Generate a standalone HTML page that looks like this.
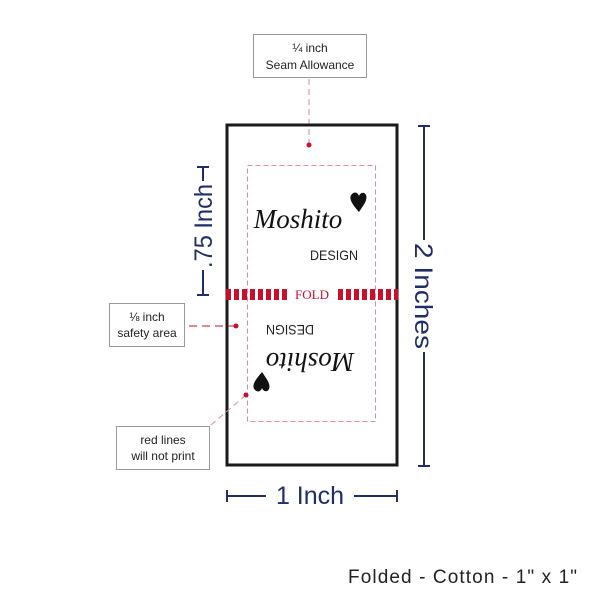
<!DOCTYPE html>
<html><head><style>
body{margin:0;background:#fff;width:600px;height:600px;overflow:hidden}
svg{display:block}
.lbl{font-family:"Liberation Sans",sans-serif;font-size:12px;fill:#222}
.dim{font-family:"Liberation Sans",sans-serif;font-size:25px;fill:#1f2d6a}
.scr{font-family:"Liberation Serif",serif;font-style:italic;fill:#111}
.dsg{font-family:"Liberation Sans",sans-serif;font-size:14px;fill:#222}
</style></head><body>
<svg width="600" height="600" viewBox="0 0 600 600">
<rect x="253.5" y="34.5" width="113" height="43" fill="#fff" stroke="#999"/>
<text class="lbl" x="310" y="52" text-anchor="middle">¼ inch</text>
<text class="lbl" x="310" y="69" text-anchor="middle">Seam Allowance</text>
<line x1="309" y1="79" x2="309" y2="144" stroke="#e08a95" stroke-dasharray="6,4"/>
<circle cx="309" cy="145" r="2.5" fill="#c8102e"/>
<rect x="227" y="125" width="170" height="340" fill="none" stroke="#1a1a1a" stroke-width="3"/>
<rect x="247.5" y="165.5" width="128" height="256" fill="none" stroke="#e08a95" stroke-dasharray="5,3"/>
<line x1="226" y1="294.5" x2="290" y2="294.5" stroke="#c8102e" stroke-width="11" stroke-dasharray="5,3"/>
<line x1="338" y1="294.5" x2="398" y2="294.5" stroke="#c8102e" stroke-width="11" stroke-dasharray="5,3"/>
<text x="312" y="299" text-anchor="middle" font-family="Liberation Serif,serif" font-size="13" fill="#c8102e">FOLD</text>
<!-- logo top -->
<text class="scr" x="298" y="228" font-size="27" text-anchor="middle">Moshito</text>
<text class="dsg" x="334" y="260" text-anchor="middle" textLength="48" lengthAdjust="spacingAndGlyphs">DESIGN</text>
<path d="M359 212 C352 204 348 198 352 194 C355 191 358 193 359 196 C360 193 364 191 366 195 C368 200 363 206 359 212Z" fill="#111"/>
<!-- logo bottom rotated -->
<g transform="translate(310 362) rotate(180)"><text class="scr" x="0" y="9" font-size="27" text-anchor="middle">Moshito</text></g>
<g transform="translate(290 330) rotate(180)"><text class="dsg" x="0" y="5" text-anchor="middle" textLength="48" lengthAdjust="spacingAndGlyphs">DESIGN</text></g>
<path d="M262 372 C255 380 251 386 255 390 C258 393 261 391 262 388 C263 391 267 393 269 389 C271 384 266 378 262 372Z" fill="#111"/>
<!-- safety -->
<rect x="109.5" y="303.5" width="75" height="43" fill="#fff" stroke="#999"/>
<text class="lbl" x="147" y="321" text-anchor="middle">⅛ inch</text>
<text class="lbl" x="147" y="337" text-anchor="middle">safety area</text>
<line x1="189" y1="326" x2="236" y2="326" stroke="#c8102e" stroke-dasharray="8,5"/>
<circle cx="236" cy="326" r="2.5" fill="#c8102e"/>
<!-- red lines -->
<rect x="116.5" y="426.5" width="93" height="43" fill="#fff" stroke="#999"/>
<text class="lbl" x="163" y="444" text-anchor="middle">red lines</text>
<text class="lbl" x="163" y="460" text-anchor="middle">will not print</text>
<line x1="211" y1="425" x2="246" y2="395" stroke="#e08a95" stroke-dasharray="6,4"/>
<circle cx="246" cy="395" r="2.5" fill="#c8102e"/>
<!-- dims -->
<g stroke="#1f2d6a" stroke-width="2" fill="none">
<line x1="424" y1="126" x2="424" y2="240"/><line x1="424" y1="352" x2="424" y2="466"/>
<line x1="418" y1="126" x2="430" y2="126"/><line x1="418" y1="466" x2="430" y2="466"/>
<line x1="203" y1="167" x2="203" y2="181"/><line x1="203" y1="270" x2="203" y2="295"/>
<line x1="197" y1="167" x2="209" y2="167"/><line x1="197" y1="295" x2="209" y2="295"/>
<line x1="227" y1="496" x2="266" y2="496"/><line x1="354" y1="496" x2="397" y2="496"/>
<line x1="227" y1="490" x2="227" y2="502"/><line x1="397" y1="490" x2="397" y2="502"/>
</g>
<text class="dim" transform="translate(415 296) rotate(90)" text-anchor="middle" textLength="106" lengthAdjust="spacingAndGlyphs">2 Inches</text>
<text class="dim" transform="translate(212 226) rotate(-90)" text-anchor="middle" textLength="84" lengthAdjust="spacingAndGlyphs">.75 Inch</text>
<text class="dim" x="310" y="504" text-anchor="middle">1 Inch</text>
<text x="577" y="583" text-anchor="end" font-family="Liberation Sans,sans-serif" font-size="19" fill="#222" textLength="229" lengthAdjust="spacing">Folded - Cotton - 1" x 1"</text>
</svg>
</body></html>
